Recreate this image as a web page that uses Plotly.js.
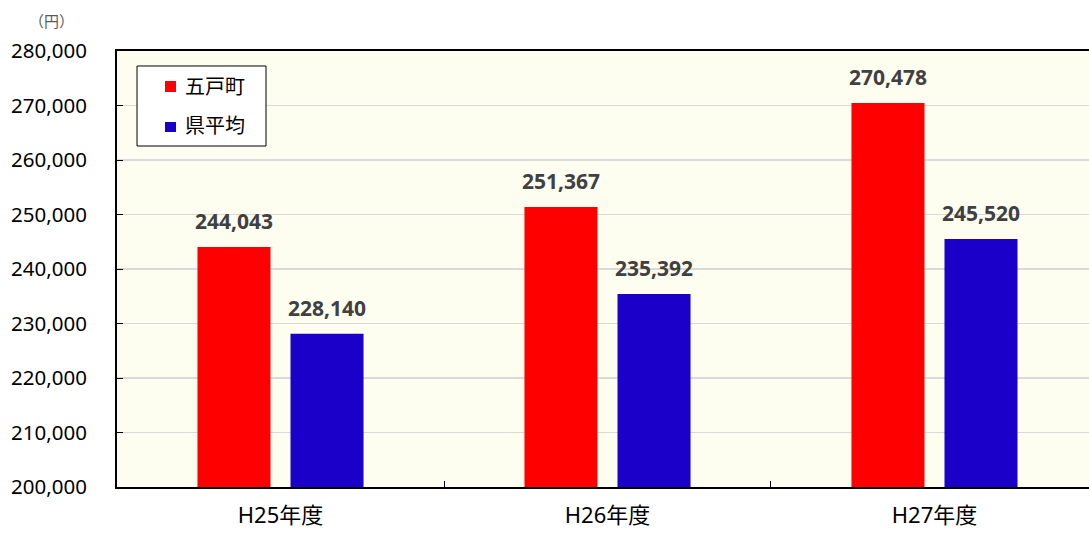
<!DOCTYPE html>
<html>
<head>
<meta charset="utf-8">
<script src="https://cdn.plot.ly/plotly-3.0.1.min.js"></script>
<style>html,body{margin:0;padding:0;background:#fff;}#chart{width:1089px;height:534px;}</style>
</head>
<body>
<div id="chart"></div>
<script>
const categories = ['H25年度', 'H26年度', 'H27年度'];
const seriesNames = ['五戸町', '県平均'];
const gonohe = [244043, 251367, 270478];
const prefAvg = [228140, 235392, 245520];
const yTickVals = [200000, 210000, 220000, 230000, 240000, 250000, 260000, 270000, 280000];
const unitLabel = '（円）';

const FONT = 'Noto Sans, Noto Sans CJK JP, sans-serif';
const colors = ['#ff0000', '#1a00c8'];
const seriesData = [gonohe, prefAvg];

const traces = seriesData.map((vals, i) => ({
  type: 'bar',
  name: seriesNames[i],
  x: categories,
  y: vals,
  marker: {color: colors[i], line: {width: 0}},
  hoverinfo: 'x+y+name'
}));

const annotations = [];
seriesData.forEach((vals, i) => {
  vals.forEach((v, j) => {
    annotations.push({
      x: categories[j], y: v, xref: 'x', yref: 'y',
      text: v.toLocaleString('en-US'),
      showarrow: false,
      xshift: i === 0 ? -46.5 : 46.5,
      yshift: 26,
      yanchor: 'middle',
      font: {family: FONT, size: 21, color: '#404040', weight: 'bold'}
    });
  });
});
annotations.push({
  xref: 'paper', yref: 'paper', x: -0.0679, y: 1.0688,
  xanchor: 'center', yanchor: 'middle',
  text: unitLabel, showarrow: false,
  font: {family: FONT, size: 15, color: '#595959'}
});

// custom legend (box, swatches, labels)
const shapes = [{
  type: 'rect', xref: 'paper', yref: 'paper',
  x0: 0.0206, x1: 0.1533, y0: 0.7821, y1: 0.9656,
  fillcolor: '#ffffff', line: {color: '#000000', width: 1}, layer: 'above'
}];
const legendRows = [
  {sy0: 0.906, sy1: 0.9312, ty: 0.9197},
  {sy0: 0.8142, sy1: 0.8372, ty: 0.828}
];
seriesNames.forEach((name, i) => {
  const r = legendRows[i];
  shapes.push({
    type: 'rect', xref: 'paper', yref: 'paper',
    x0: 0.0494, x1: 0.0607, y0: r.sy0, y1: r.sy1,
    fillcolor: colors[i], line: {width: 0}, layer: 'above'
  });
  annotations.push({
    xref: 'paper', yref: 'paper', x: 0.0679, y: r.ty,
    xanchor: 'left', yanchor: 'middle', showarrow: false,
    text: name,
    font: {family: FONT, size: 20, color: '#000000'}
  });
});

const layout = {
  width: 1089, height: 534,
  margin: {l: 117, r: 0, t: 51, b: 47},
  paper_bgcolor: '#ffffff',
  plot_bgcolor: '#fdfdf0',
  barmode: 'group',
  bargap: 0.431,
  bargroupgap: 0.215,
  showlegend: false,
  xaxis: {
    type: 'category',
    range: [-0.5, 2.4725],
    showline: true, linecolor: '#000000', linewidth: 2, mirror: true,
    ticks: 'inside', tickson: 'boundaries', ticklen: 6, tickcolor: '#000000', tickwidth: 1,
    showgrid: false,
    tickfont: {family: FONT, size: 22, color: '#000000'},
    ticklabelstandoff: 8
  },
  yaxis: {
    range: [200000, 280000],
    tickvals: yTickVals,
    tickformat: ',d',
    showline: true, linecolor: '#000000', linewidth: 2,
    ticks: 'inside', ticklen: 6, tickcolor: '#000000', tickwidth: 1,
    showgrid: true, gridcolor: '#d9d9d9', gridwidth: 1.5,
    zeroline: false,
    tickfont: {family: FONT, size: 20.5, color: '#000000'},
    ticklabelstandoff: 24
  },
  shapes: shapes,
  annotations: annotations
};

Plotly.newPlot('chart', traces, layout, {displayModeBar: false, staticPlot: true});
</script>
</body>
</html>
